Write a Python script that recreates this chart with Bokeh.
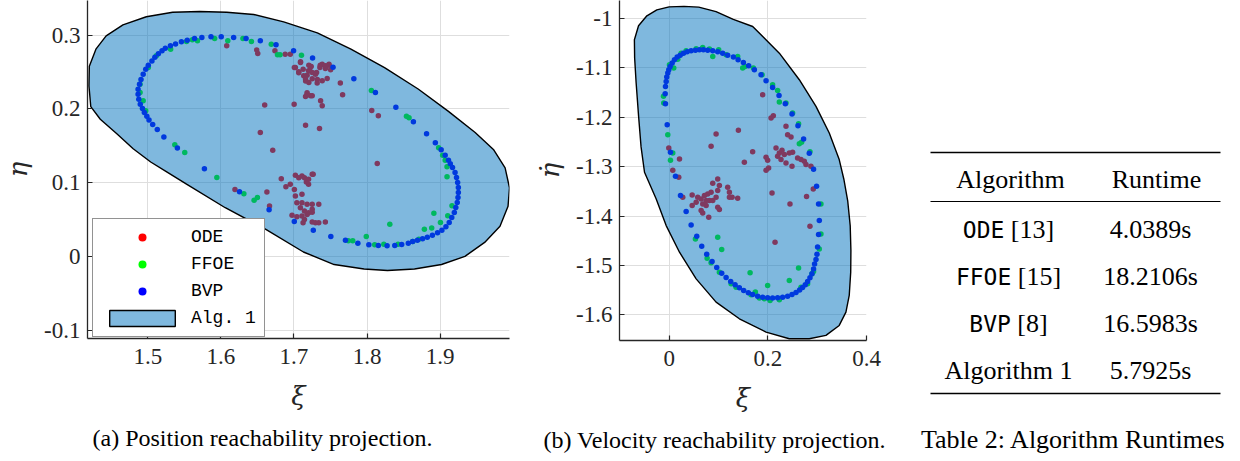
from bokeh.plotting import figure
from bokeh.layouts import row
from bokeh.models import Range1d, FixedTicker, Title
from bokeh.embed import file_html
from bokeh.resources import INLINE
from bokeh.core.properties import value

# ---------------- (a) position reachability projection ----------------
pos_alg = [(1.4195,0.231),(1.420,0.258),(1.429,0.281),(1.443,0.299),(1.466,0.314),(1.498,0.325),
           (1.534,0.331),(1.571,0.332),(1.608,0.331),(1.645,0.328),(1.686,0.318),(1.732,0.303),
           (1.778,0.281),(1.824,0.256),(1.870,0.227),(1.911,0.197),(1.948,0.168),(1.973,0.145),
           (1.989,0.120),(1.995,0.093),(1.993,0.068),(1.982,0.041),(1.961,0.019),(1.934,0.000),
           (1.902,-0.011),(1.865,-0.017),(1.828,-0.019),(1.796,-0.017),(1.755,-0.011),(1.713,0.006),
           (1.661,0.037),(1.606,0.066),(1.553,0.098),(1.527,0.114),(1.504,0.128),(1.480,0.146),
           (1.458,0.166),(1.435,0.186),(1.422,0.203)]
pos_bvp = [(1.5775,0.119),(1.5405,0.147),(1.522,0.162),(1.513,0.172),(1.5067,0.179),(1.5017,0.185),
           (1.4987,0.190),(1.4953,0.195),(1.4927,0.2006),(1.4897,0.2064),(1.4877,0.2132),(1.4867,0.220),
           (1.4867,0.2268),(1.4887,0.2336),(1.4907,0.240),(1.4937,0.247),(1.4972,0.2539),(1.5007,0.2593),
           (1.5057,0.265),(1.5097,0.270),(1.5145,0.2748),(1.5195,0.2788),(1.524,0.2824),(1.531,0.2856),
           (1.538,0.288),(1.546,0.291),(1.554,0.293),(1.564,0.2955),(1.574,0.297),(1.5865,0.298),
           (1.6005,0.298),(1.6175,0.297),(1.6345,0.2955),(1.654,0.2924),(1.6755,0.287),(1.6995,0.279),
           (1.7255,0.269),(1.7535,0.2566),(1.782,0.241),(1.8115,0.2223),(1.8395,0.2024),(1.8635,0.1826),
           (1.8815,0.1663),(1.8935,0.154),(1.9015,0.1446),(1.907,0.1373),(1.9115,0.1305),(1.914,0.1255),
           (1.917,0.1206),(1.9205,0.1138),(1.9225,0.107),(1.924,0.1003),(1.925,0.0935),(1.925,0.0867),
           (1.9245,0.080),(1.9235,0.0731),(1.9215,0.0664),(1.9195,0.0596),(1.916,0.0528),(1.9125,0.046),
           (1.908,0.0402),(1.9025,0.0356),(1.8965,0.032),(1.8895,0.0288),(1.8825,0.026),(1.876,0.024),
           (1.869,0.022),(1.8625,0.0203),(1.8565,0.018),(1.8475,0.0162),(1.838,0.0148),(1.8275,0.0144),
           (1.8155,0.0148),(1.8025,0.0158),(1.7875,0.018),(1.7705,0.022),(1.7505,0.027),(1.7265,0.0356),
           (1.7005,0.0474),(1.666,0.0633),(1.6255,0.0877)]
pos_ffoe = [(1.7103,0.2729),(1.806,0.225),(1.854,0.190),(1.8575,0.188),(1.898,0.1473),(1.9035,0.1373),
            (1.907,0.1305),(1.9095,0.1216),(1.9095,0.108),(1.9163,0.0687),(1.8915,0.0586),(1.9105,0.055),
            (1.9005,0.046),(1.8885,0.0385),(1.8785,0.037),(1.8312,0.0437),(1.799,0.027),(1.7745,0.0212),
            (1.7805,0.0212),(1.8105,0.0158),(1.823,0.0166),(1.8425,0.0166),(1.8625,0.0203),(1.871,0.0233),
            (1.5945,0.107),(1.6315,0.085),(1.6455,0.0763),(1.65,0.080),(1.5313,0.281),(1.553,0.2915),
            (1.561,0.2938),(1.568,0.2924),(1.5915,0.2955),(1.6095,0.2924),(1.6302,0.2955),(1.6418,0.2915),
            (1.669,0.2878),(1.6775,0.2734),(1.681,0.2734),(1.4894,0.2336),(1.4894,0.2223),(1.4937,0.211),
            (1.4972,0.1975),(1.537,0.1514),(1.5506,0.141),(1.5117,0.272),(1.5007,0.2562)]
pos_ode = [(1.709,0.264),(1.702,0.256),(1.7066,0.2504),(1.7126,0.2539),(1.7204,0.2593),(1.7236,0.2576),
           (1.7218,0.2517),(1.718,0.2458),(1.725,0.2494),(1.7159,0.2403),(1.7204,0.2359),(1.731,0.2494),
           (1.7355,0.256),(1.7387,0.2607),(1.7433,0.2585),(1.7479,0.2593),(1.7502,0.2531),(1.7455,0.2413),
           (1.7387,0.2382),(1.7318,0.235),(1.718,0.220),(1.7227,0.2178),(1.7159,0.2169),(1.7365,0.211),
           (1.7387,0.2043),(1.7635,0.235),(1.7666,0.2192),(1.7159,0.178),(1.735,0.1735),(1.8065,0.198),
           (1.8155,0.1907),(1.814,0.126),(1.7003,0.2064),(1.7006,0.256),(1.7066,0.249),(1.709,0.263),
           (1.7134,0.245),(1.716,0.238),(1.720,0.2516),(1.7226,0.2575),(1.725,0.241),(1.7295,0.247),
           (1.736,0.2593),(1.743,0.2548),(1.748,0.2606),(1.732,0.240),(1.718,0.222),(1.725,0.2177),
           (1.608,0.2855),(1.649,0.280),(1.6505,0.275),(1.674,0.2787),(1.688,0.274),(1.695,0.274),
           (1.660,0.2054),(1.654,0.168),(1.671,0.144),
           (1.6193,0.0909),(1.663,0.0873),(1.6666,0.0683),(1.6827,0.1054),(1.689,0.0946),(1.695,0.0977),
           (1.702,0.110),(1.7066,0.1068),(1.711,0.109),(1.7144,0.1068),(1.720,0.1045),(1.7263,0.1113),
           (1.7006,0.0909),(1.702,0.0819),(1.711,0.0842),(1.720,0.0977),(1.717,0.1009),(1.704,0.0728),
           (1.711,0.0728),(1.718,0.0706),(1.725,0.0706),(1.734,0.0706),(1.7088,0.066),(1.7144,0.0615),
           (1.720,0.0593),(1.725,0.0638),(1.6974,0.0557),(1.704,0.0538),(1.711,0.0547),(1.718,0.057),
           (1.725,0.060),(1.7144,0.0502),(1.725,0.0466),(1.734,0.0457),(1.743,0.0466),(1.7295,0.0457),
           (1.7125,0.0457),(1.725,0.1115)]
pos_xticks = [1.5, 1.6, 1.7, 1.8, 1.9]
pos_xlabels = ["1.5", "1.6", "1.7", "1.8", "1.9"]
pos_yticks = [-0.1, 0.0, 0.1, 0.2, 0.3]
pos_ylabels = ["-0.1", "0", "0.1", "0.2", "0.3"]

# ---------------- (b) velocity reachability projection ----------------
vel_alg = [(-0.025,-0.9825),(0.0,-0.9765),(0.03,-0.9755),(0.06,-0.977),(0.095,-0.986),(0.13,-1.002),
           (0.1693,-1.0162),(0.2233,-1.0702),(0.2638,-1.124),(0.2976,-1.178),(0.3245,-1.232),
           (0.3447,-1.2857),(0.354,-1.325),(0.362,-1.37),(0.367,-1.42),(0.3684,-1.47),(0.368,-1.5136),
           (0.365,-1.5608),(0.3583,-1.5945),(0.3447,-1.6215),(0.3178,-1.6417),(0.284,-1.6485),
           (0.2435,-1.6485),(0.1964,-1.635),(0.1423,-1.608),(0.0951,-1.5743),(0.0547,-1.5272),
           (0.0209,-1.4732),(-0.0061,-1.4193),(-0.0263,-1.3654),(-0.050,-1.3114),(-0.057,-1.26),
           (-0.062,-1.198),(-0.067,-1.13),(-0.070,-1.08),(-0.0705,-1.043),(-0.0621,-1.0148),(-0.0452,-0.9946)]
vel_bvp = [(-0.0075,-1.1726),(-0.0081,-1.1523),(-0.0075,-1.1375),(-0.0061,-1.1274),(-0.0049,-1.1187),
           (-0.0028,-1.1106),(-0.0008,-1.1037),(0.002,-1.0971),(0.0061,-1.0903),(0.0107,-1.0835),
           (0.0162,-1.0782),(0.0223,-1.0742),(0.029,-1.0702),(0.0364,-1.0673),(0.0445,-1.0653),
           (0.0532,-1.0641),(0.0613,-1.0633),(0.0694,-1.0633),(0.0781,-1.0641),(0.0883,-1.0653),
           (0.0984,-1.0673),(0.1085,-1.0702),(0.1186,-1.0742),(0.1302,-1.0782),(0.1397,-1.0835),
           (0.1504,-1.089),(0.1611,-1.0957),(0.1727,-1.1037),(0.1862,-1.1139),(0.1964,-1.126),
           (0.2097,-1.1395),(0.2227,-1.1557),(0.2354,-1.1726),(0.249,-1.1935),(0.2611,-1.217),
           (0.2725,-1.244),(0.284,-1.273),(0.2927,-1.3054),(-0.004,-1.215),(0.0026,-1.271),
           (0.0128,-1.3195),(0.0229,-1.3586),(0.0344,-1.391),(0.0445,-1.418),(0.0559,-1.4408),
           (0.066,-1.461),(0.0761,-1.4772),(0.087,-1.492),(0.0964,-1.504),(0.1065,-1.5157),
           (0.1154,-1.5244),(0.1247,-1.5325),(0.1336,-1.5393),(0.1423,-1.5454),(0.151,-1.5507),
           (0.1605,-1.5555),(0.1692,-1.5588),(0.1794,-1.5622),(0.1895,-1.5642),(0.1996,-1.5656),
           (0.2097,-1.5662),(0.2198,-1.5656),(0.23,-1.5642),(0.2401,-1.5622),(0.249,-1.5588),
           (0.2571,-1.5547),(0.2644,-1.55),(0.2704,-1.5446),(0.2759,-1.5393),(0.2806,-1.5325),
           (0.2854,-1.5252),(0.2895,-1.5171),(0.2927,-1.507),(0.2947,-1.4969),(0.2976,-1.488),
           (0.2996,-1.4772),(0.3008,-1.4625),(0.3028,-1.4374),(0.3043,-1.4091),(0.3028,-1.3755),
           (0.2988,-1.3397)]
vel_ffoe = [(-0.0115,-1.1577),(-0.011,-1.1713),(-0.0028,-1.2352),(0.0026,-1.2872),(0.0073,-1.2724),
            (0.0006,-1.0937),(0.0093,-1.1005),(0.0174,-1.0823),(0.0243,-1.0702),(0.0344,-1.0653),
            (0.0547,-1.0613),(0.068,-1.0586),(0.0816,-1.062),(0.1004,-1.0633),(0.0883,-1.0768),
            (0.1154,-1.0734),(0.1389,-1.0768),(0.149,-1.1005),(0.1538,-1.097),(0.1707,-1.1005),
            (0.1883,-1.1139),(0.2097,-1.134),(0.2198,-1.1456),(0.2233,-1.1692),(0.2368,-1.1713),
            (0.2502,-1.1915),(0.2623,-1.213),(0.2638,-1.2534),(0.2684,-1.2508),(0.2854,-1.2696),
            (0.0532,-1.4463),(0.0769,-1.4853),(0.085,-1.4948),(0.0984,-1.4429),(0.1065,-1.4678),
            (0.1018,-1.5136),(0.1255,-1.5373),(0.1356,-1.544),(0.164,-1.515),(0.1747,-1.554),
            (0.1828,-1.5662),(0.1996,-1.5406),(0.2045,-1.5709),(0.2233,-1.5696),(0.2435,-1.5305),
            (0.2623,-1.505),(0.2672,-1.544),(0.2806,-1.5373),(0.2895,-1.5171),(0.2927,-1.5123),
            (0.3043,-1.4665),(0.3077,-1.4362),(0.3077,-1.3755),(0.166,-1.5595),(0.193,-1.5676)]
vel_ode = [(0.1895,-1.1543),(0.2065,-1.2016),(0.2111,-1.1968),(0.2368,-1.2184),(0.2401,-1.2352),
           (0.247,-1.24),(0.0951,-1.234),(0.1403,-1.2265),(0.085,-1.2588),(0.1692,-1.2696),
           (0.1524,-1.2912),(0.1964,-1.2811),(0.1996,-1.2872),(0.2166,-1.2623),(0.2233,-1.2724),
           (0.2287,-1.2669),(0.2198,-1.2791),(0.2334,-1.2756),(0.2435,-1.2724),(0.2502,-1.271),
           (0.2267,-1.2857),(0.2368,-1.2926),(0.249,-1.2993),(0.1964,-1.3074),(0.2016,-1.3027),
           (0.2603,-1.2825),(0.2672,-1.2857),(0.2739,-1.2892),(0.2773,-1.2959),(0.2874,-1.2993),
           (0.0209,-1.2845),(0.0073,-1.3074),(-0.0008,-1.2623),
           (0.0194,-1.3215),(0.0275,-1.362),(0.0466,-1.3573),(0.0547,-1.3721),(0.0466,-1.3788),
           (0.0648,-1.3654),(0.0715,-1.3586),(0.0781,-1.3553),(0.085,-1.3519),(0.0816,-1.3687),
           (0.068,-1.3755),(0.0749,-1.3788),(0.0648,-1.3889),(0.068,-1.3937),(0.0802,-1.4024),
           (0.0883,-1.3687),(0.0951,-1.362),(0.0984,-1.3484),(0.1018,-1.3383),(0.0984,-1.325),
           (0.0883,-1.3337),(0.1186,-1.3418),(0.1221,-1.3519),(0.1275,-1.362),(0.1221,-1.362),
           (0.1389,-1.364),(0.0984,-1.3822),(0.1018,-1.3869),(0.2085,-1.3533),(0.2449,-1.3755),
           (0.2785,-1.3606),(0.2921,-1.3452),(0.2854,-1.4206),(0.2146,-1.453),(0.0579,-1.362),
           (0.0749,-1.3687)]
vel_xticks = [0.0, 0.2, 0.4]
vel_xlabels = ["0", "0.2", "0.4"]
vel_yticks = [-1.6, -1.5, -1.4, -1.3, -1.2, -1.1, -1.0]
vel_ylabels = ["-1.6", "-1.5", "-1.4", "-1.3", "-1.2", "-1.1", "-1"]

# ---------------- Table 2 ----------------
tab_header = ["Algorithm", "Runtime"]
tab_names = ["ODE", "FFOE", "BVP", "Algorithm 1"]
tab_refs = ["[13]", "[15]", "[8]", ""]
tab_mono = [True, True, True, False]
tab_runtimes = ["4.0389s", "18.2106s", "16.5983s", "5.7925s"]

ODE_C, FFOE_C, BVP_C = "#FF0000", "#00FF00", "#0000FF"
ALG_C = "#0072BD"
INK = "#262626"
SERIF = "Liberation Serif"
MATH = "DejaVu Serif"
FIG_H = 453


def unzip(pairs):
    return [a for a, b in pairs], [b for a, b in pairs]


def make_plot(xr, yr, fw, fh, bl, br, alg, bvp, ffoe, ode,
              xt, xl, yt, yl, xlabel, ylabel, caption, cap_off, legend):
    p = figure(frame_width=fw, frame_height=fh, x_range=Range1d(*xr), y_range=Range1d(*yr),
               min_border_left=bl, min_border_right=br, min_border_top=0,
               min_border_bottom=FIG_H - fh,
               toolbar_location=None, output_backend="svg")
    p.outline_line_color = None
    p.background_fill_color = "white"
    p.border_fill_color = "white"
    kw = dict(size=5.5, line_width=0)
    ox, oy = unzip(ode)
    gx, gy = unzip(ffoe)
    bx, by = unzip(bvp)
    ax_, ay_ = unzip(alg)
    if legend:
        p.scatter(ox, oy, color=ODE_C, legend_label="ODE", **kw)
        p.scatter(gx, gy, color=FFOE_C, legend_label="FFOE", **kw)
        p.scatter(bx, by, color=BVP_C, legend_label="BVP", **kw)
        p.patch(ax_, ay_, fill_color=ALG_C, fill_alpha=0.5, line_color="black",
                line_width=1.4, legend_label="Alg. 1")
    else:
        p.scatter(ox, oy, color=ODE_C, **kw)
        p.scatter(gx, gy, color=FFOE_C, **kw)
        p.scatter(bx, by, color=BVP_C, **kw)
        p.patch(ax_, ay_, fill_color=ALG_C, fill_alpha=0.5, line_color="black", line_width=1.4)

    p.xaxis.ticker = FixedTicker(ticks=xt)
    p.yaxis.ticker = FixedTicker(ticks=yt)
    p.xaxis.major_label_overrides = {t: s for t, s in zip(xt, xl)}
    p.yaxis.major_label_overrides = {t: s for t, s in zip(yt, yl)}
    for ax in (p.xaxis[0], p.yaxis[0]):
        ax.axis_line_color = INK
        ax.axis_line_width = 1.3
        ax.major_tick_line_color = INK
        ax.major_tick_line_width = 1.2
        ax.major_tick_in = 5
        ax.major_tick_out = 0
        ax.minor_tick_line_color = None
        ax.major_label_text_font = SERIF
        ax.major_label_text_font_size = "23px"
        ax.major_label_text_color = INK
        ax.axis_label_text_font = MATH
        ax.axis_label_text_font_size = "26px"
        ax.axis_label_text_font_style = "italic"
        ax.axis_label_text_color = INK
    p.xaxis.major_label_standoff = 10
    p.yaxis.major_label_standoff = 7
    p.xaxis.axis_label = xlabel
    p.yaxis.axis_label = ylabel
    p.xaxis.axis_label_standoff = 14
    p.yaxis.axis_label_standoff = 8
    p.grid.grid_line_color = "#dedede"
    p.grid.grid_line_width = 1

    t = Title(text=caption, align="left", text_font=SERIF, text_font_size="24px",
              text_font_style="normal", text_color="black", standoff=18, offset=cap_off)
    p.add_layout(t, "below")

    if legend:
        lg = p.legend[0]
        lg.location = (5, 1)
        lg.margin = 0
        lg.padding = 8
        lg.spacing = 7
        lg.glyph_width = 82
        lg.glyph_height = 20
        lg.label_height = 20
        lg.label_standoff = 8
        lg.label_text_font = "Liberation Mono"
        lg.label_text_font_size = "18px"
        lg.label_text_color = "black"
        lg.border_line_color = INK
        lg.border_line_width = 1.5
        lg.background_fill_alpha = 1.0
    return p


pa = make_plot((1.4175, 1.995), (-0.1113, 0.347), 422, 338, 81, 19,
               pos_alg, pos_bvp, pos_ffoe, pos_ode,
               pos_xticks, pos_xlabels, pos_yticks, pos_ylabels,
               "\u03be", "\u03b7", "(a) Position reachability projection.", 5, True)

pb = make_plot((-0.1007, 0.4), (-1.652, -0.9636), 247, 340, 91, 32,
               vel_alg, vel_bvp, vel_ffoe, vel_ode,
               vel_xticks, vel_xlabels, vel_yticks, vel_ylabels,
               "\u03be\u0307", "\u03b7\u0307", "(b) Velocity reachability projection.", -76, False)

# ---- table panel (layout units = pixels of this panel) ----
TW, TH = 332, FIG_H
pt = figure(frame_width=TW, frame_height=TH, x_range=Range1d(0, TW), y_range=Range1d(TH, 0),
            min_border=0, toolbar_location=None, output_backend="svg",
            x_axis_location=None, y_axis_location=None)
pt.grid.visible = False
pt.outline_line_color = None

rule_x0, rule_x1 = 32, 322
top_rule, mid_rule, bot_rule = 152, 201, 393
header_y = 179
row0, row_h = 229, 47
col1, col2 = 110, 252
FS = 26
MONO_FS = 23
TIMES_W = {" ": 0.25, "[": 0.333, "]": 0.333}

pt.segment(x0=[rule_x0] * 3, x1=[rule_x1] * 3, y0=[top_rule, mid_rule, bot_rule],
           y1=[top_rule, mid_rule, bot_rule], line_color="black", line_width=[1.6, 1.0, 1.6])

pt.text(x=[112, 258], y=[header_y] * 2, text=tab_header, text_align="center",
        text_baseline="middle", text_font=value(SERIF), text_font_size=value(f"{FS}px"),
        text_color="black")

ys = [row0 + i * row_h for i in range(len(tab_names))]
mono_x, mono_y, mono_t, ref_x, ref_y, ref_t, ser_x, ser_y, ser_t = [], [], [], [], [], [], [], [], []
for name, ref, mono, y in zip(tab_names, tab_refs, tab_mono, ys):
    if mono:
        wm = len(name) * 0.602 * MONO_FS
        gap = TIMES_W[" "] * FS
        wr = sum(TIMES_W.get(c, 0.5) for c in ref) * FS
        left = col1 - (wm + gap + wr) / 2
        mono_x.append(left + wm); mono_y.append(y); mono_t.append(name)
        ref_x.append(left + wm + gap); ref_y.append(y); ref_t.append(ref)
    else:
        ser_x.append(col1); ser_y.append(y); ser_t.append(name)

pt.text(x=mono_x, y=mono_y, text=mono_t, text_align="right", text_baseline="middle",
        text_font=value("DejaVu Sans Mono"), text_font_size=value(f"{MONO_FS}px"), text_color="black")
pt.text(x=ref_x, y=ref_y, text=ref_t, text_align="left", text_baseline="middle",
        text_font=value(SERIF), text_font_size=value(f"{FS}px"), text_color="black")
pt.text(x=ser_x, y=ser_y, text=ser_t, text_align="center", text_baseline="middle",
        text_font=value(SERIF), text_font_size=value(f"{FS}px"), text_color="black")
pt.text(x=[col2] * len(ys), y=ys, text=tab_runtimes, text_align="center", text_baseline="middle",
        text_font=value(SERIF), text_font_size=value(f"{FS}px"), text_color="black")
pt.text(x=[175], y=[439], text=["Table 2: Algorithm Runtimes"], text_align="center",
        text_baseline="middle", text_font=value(SERIF), text_font_size=value(f"{FS}px"),
        text_color="black")

layout = row(pa, pb, pt)
open("out.html", "w").write(file_html(layout, INLINE))
